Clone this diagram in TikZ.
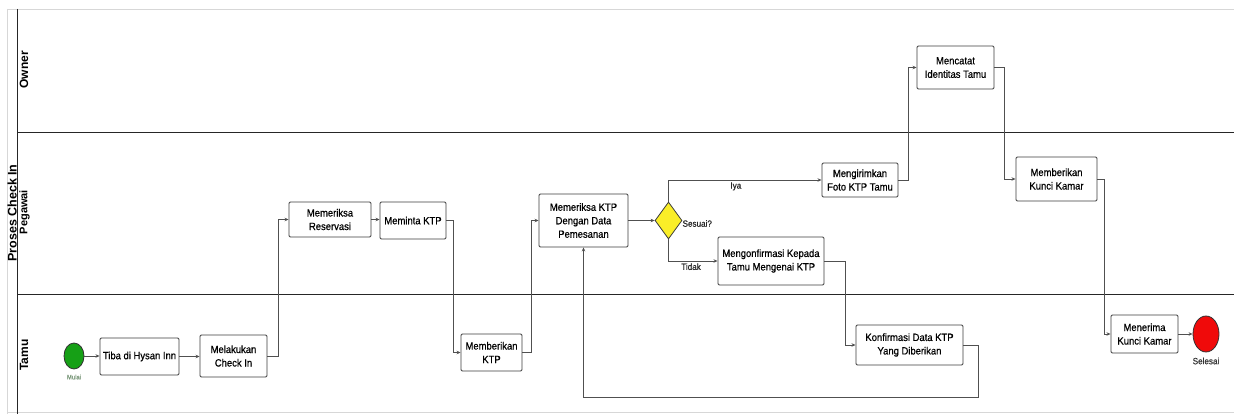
\documentclass[tikz,border=0pt]{standalone}
\usepackage{fontspec}
\setmainfont{Liberation Sans}[FakeStretch=0.9,FakeBold=0.6]
\newfontfamily\lanefont{Liberation Sans}
\usetikzlibrary{shapes.geometric,arrows.meta}
\definecolor{edge}{RGB}{80,80,80}
\definecolor{boxline}{RGB}{60,60,60}
\definecolor{lanegray}{RGB}{215,215,215}
\definecolor{startgreen}{RGB}{22,160,22}
\definecolor{endred}{RGB}{240,10,10}
\definecolor{gateyellow}{RGB}{250,238,40}
\definecolor{mulaitext}{RGB}{120,150,120}
\begin{document}
\begin{tikzpicture}[x=1pt,y=-1pt,
  box/.style={draw=boxline, line width=0.9pt, rounded corners=1.2pt, fill=white, align=center,
    inner sep=1pt, font=\fontsize{10.5}{13.5}\selectfont, text=black},
  arr/.style={draw=edge, line width=0.8pt, -{Stealth[length=4pt,width=3.5pt]}},
  lanelbl/.style={rotate=90, font=\lanefont\bfseries\fontsize{12}{14}\selectfont, inner sep=0pt},
  elbl/.style={font=\fontsize{9}{11}\selectfont, text=black!85, inner sep=1pt},
  evt/.style={ellipse, draw=black!80, line width=0.8pt, inner sep=0pt}
]
\useasboundingbox (0,0) rectangle (1234,414);

% pool and lanes
\draw[lanegray, line width=0.8pt] (7,9) -- (1234,9);
\draw[lanegray, line width=0.8pt] (7,9) -- (7,414);
\draw[lanegray, line width=0.6pt] (7,412) -- (1234,412);
\draw[black!85, line width=0.9pt] (17,9) -- (17,414);
\draw[black!85, line width=0.9pt] (17,132) -- (1234,132);
\draw[black!85, line width=0.9pt] (17,294) -- (1234,294);

\node[rotate=90, font=\lanefont\bfseries\fontsize{12.5}{15}\selectfont, inner sep=0pt] (pool) at (12.2,213) {Proses Check In};
\node[lanelbl] (lowner) at (24,70) {Owner};
\node[lanelbl, font=\lanefont\bfseries\fontsize{11}{13}\selectfont] (lpeg) at (24.5,212) {Pegawai};
\node[lanelbl] (ltamu) at (24,355) {Tamu};

% events
\node[evt, fill=startgreen, minimum width=20pt, minimum height=26pt] (mulai) at (74,356) {};
\node[font=\fontsize{6.5}{8}\selectfont, text=mulaitext, inner sep=0pt] (mulaiL) at (74,377) {Mulai};
\node[evt, fill=endred, minimum width=26pt, minimum height=36pt] (selesai) at (1206,334) {};
\node[font=\fontsize{9}{11}\selectfont, text=black!80, inner sep=0pt] (selesaiL) at (1206,361) {Selesai};

% tasks
\node[box, minimum width=79pt, minimum height=37pt] (tiba) at (139.5,356.5) {Tiba di Hysan Inn};
\node[box, minimum width=67pt, minimum height=42pt] (checkin) at (233.5,356) {Melakukan\\Check In};
\node[box, minimum width=82pt, minimum height=35pt] (reservasi) at (330,219.5) {Memeriksa\\Reservasi};
\node[box, minimum width=66pt, minimum height=37pt] (meminta) at (413,220.5) {Meminta KTP};
\node[box, minimum width=61pt, minimum height=37pt] (berikanktp) at (491.5,352.5) {Memberikan\\KTP};
\node[box, minimum width=89pt, minimum height=53pt] (periksa) at (583.5,220.5) {Memeriksa KTP\\Dengan Data\\Pemesanan};
\node[diamond, draw=boxline, line width=0.8pt, fill=gateyellow, inner sep=0pt, minimum width=27pt, minimum height=37pt, aspect=0.73] (gate) at (668.5,220.5) {};
\node[elbl, anchor=west] (sesuai) at ([xshift=-1pt,yshift=-3pt]gate.east) {Sesuai?};
\node[box, minimum width=106pt, minimum height=48pt] (konfirmasi) at (771,261) {Mengonfirmasi Kepada\\Tamu Mengenai KTP};
\node[box, minimum width=76pt, minimum height=34pt] (kirim) at (860,180) {Mengirimkan\\Foto KTP Tamu};
\node[box, minimum width=77pt, minimum height=43pt] (catat) at (955.5,67.5) {Mencatat\\Identitas Tamu};
\node[box, minimum width=81pt, minimum height=44pt] (kunci) at (1056.5,179) {Memberikan\\Kunci Kamar};
\node[box, minimum width=107pt, minimum height=40pt] (konfdata) at (909.5,345) {Konfirmasi Data KTP\\Yang Diberikan};
\node[box, minimum width=67pt, minimum height=38pt] (terima) at (1144.5,334) {Menerima\\Kunci Kamar};

% flows
\draw[arr] (mulai.east) -- (tiba.west|-mulai.east);
\draw[arr] (tiba.east) -- (checkin.west|-tiba.east);
\draw[arr] (checkin.east) -- ++(11,0) |- (reservasi.west);
\draw[arr] (reservasi.east) -- (meminta.west|-reservasi.east);
\draw[arr] (meminta.east) -- ++(7,0) |- (berikanktp.west);
\draw[arr] (berikanktp.east) -- ++(9,0) |- (periksa.west);
\draw[arr] (periksa.east) -- (gate.west);
\draw[arr] (gate.north) |- node[elbl, pos=0.72, below=1pt] {Iya} (kirim.west);
\draw[arr] (gate.south) |- node[elbl, pos=0.73, below=1pt] {Tidak} (konfirmasi.west);
\draw[arr] (kirim.east) -- ++(10,0) |- (catat.west);
\draw[arr] (catat.east) -- ++(10,0) |- (kunci.west);
\draw[arr] (kunci.east) -- ++(7,0) |- (terima.west);
\draw[arr] (terima.east) -- (selesai.west);
\draw[arr] (konfirmasi.east) -- ++(21,0) |- (konfdata.west);
\draw[arr] (konfdata.east) -- ++(15,0) -- ++(0,52) -| (periksa.south);
\end{tikzpicture}
\end{document}
